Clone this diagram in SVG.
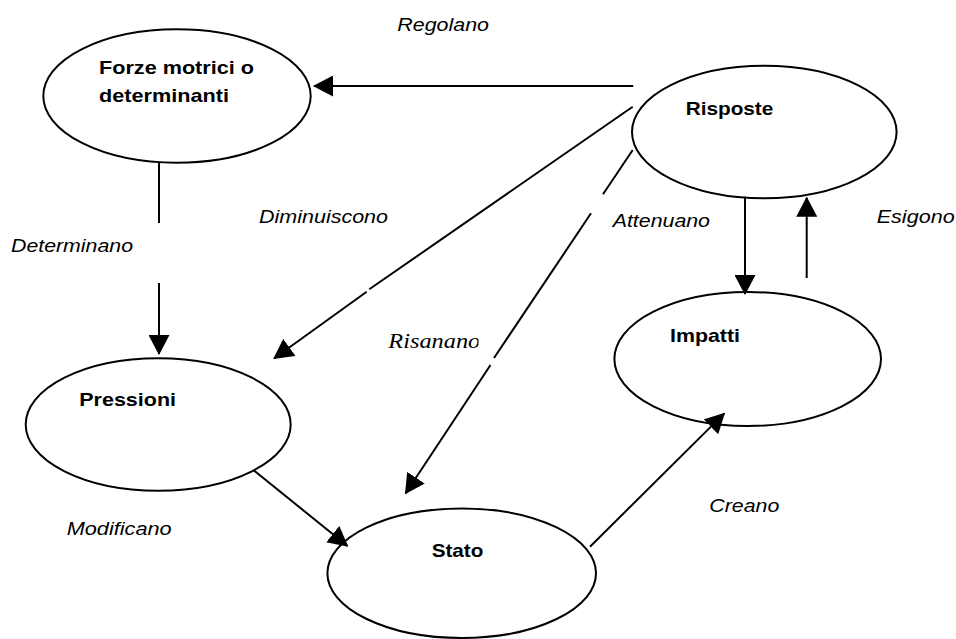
<svg xmlns="http://www.w3.org/2000/svg" width="956" height="639" viewBox="0 0 956 639">
<style>
.node{fill:#fff;stroke:#000;stroke-width:2}
.lbl{font-family:"Liberation Sans",Arial,sans-serif;font-size:19px;font-weight:bold;fill:#000}
.edge{font-family:"Liberation Sans",Arial,sans-serif;font-size:19px;font-style:italic;fill:#000}
.serif{font-family:"Liberation Serif","Times New Roman",serif;font-size:22px;font-style:italic;fill:#000}
.c{stroke:#000;stroke-width:2;fill:none}
.a{marker-end:url(#arr)}
</style>
<defs>
<marker id="arr" viewBox="0 0 20 21" markerWidth="20" markerHeight="21" refX="19" refY="10.5" markerUnits="userSpaceOnUse" orient="auto">
<path d="M0,0 L20,10.5 L0,21 Z" fill="#000"/>
</marker>
<clipPath id="clipR"><rect x="380" y="320" width="98.5" height="40"/></clipPath>
</defs>
<g id="forze">
<ellipse class="node" cx="177" cy="96" rx="133.7" ry="66.7"/>
<text class="lbl" x="99" y="74" textLength="155" lengthAdjust="spacingAndGlyphs">Forze motrici o</text>
<text class="lbl" x="99" y="101.7" textLength="130" lengthAdjust="spacingAndGlyphs">determinanti</text>
</g>
<g id="risposte">
<ellipse class="node" cx="764.3" cy="132" rx="132.3" ry="66.3"/>
<text class="lbl" x="685.7" y="115" textLength="87.6" lengthAdjust="spacingAndGlyphs">Risposte</text>
</g>
<g id="impatti">
<ellipse class="node" cx="747.7" cy="359" rx="133.3" ry="67"/>
<text class="lbl" x="670" y="341.7" textLength="70" lengthAdjust="spacingAndGlyphs">Impatti</text>
</g>
<g id="pressioni">
<ellipse class="node" cx="158.2" cy="424.5" rx="132.5" ry="66.2"/>
<text class="lbl" x="79.3" y="406" textLength="96.7" lengthAdjust="spacingAndGlyphs">Pressioni</text>
</g>
<g id="stato">
<ellipse class="node" cx="461.7" cy="573.2" rx="134.3" ry="64.8"/>
<text class="lbl" x="431.7" y="557.3" textLength="51.7" lengthAdjust="spacingAndGlyphs">Stato</text>
</g>
<g id="connectors">
<line class="c a" x1="633.3" y1="86" x2="314" y2="86"/>
<line class="c" x1="159" y1="163" x2="159" y2="223"/>
<line class="c a" x1="159" y1="283" x2="159" y2="354"/>
<line class="c" x1="632.7" y1="106.7" x2="369.3" y2="289.3"/>
<line class="c a" x1="366.7" y1="291.7" x2="274" y2="358.5"/>
<line class="c" x1="632.7" y1="150" x2="603" y2="194.3"/>
<line class="c" x1="591" y1="213.3" x2="494" y2="358"/>
<line class="c a" x1="490.5" y1="365" x2="405.5" y2="493.5"/>
<line class="c a" x1="745" y1="196.7" x2="745" y2="294"/>
<line class="c a" x1="806.7" y1="278" x2="806.7" y2="197.7"/>
<line class="c a" x1="253.3" y1="470" x2="347.5" y2="546"/>
<line class="c a" x1="590" y1="546.7" x2="724.3" y2="413.4"/>
</g>
<g id="labels">
<text class="edge" x="397.3" y="30.7" textLength="91.7" lengthAdjust="spacingAndGlyphs">Regolano</text>
<text class="edge" x="259" y="222.6" textLength="129" lengthAdjust="spacingAndGlyphs">Diminuiscono</text>
<text class="edge" x="11" y="251.7" textLength="122" lengthAdjust="spacingAndGlyphs">Determinano</text>
<text class="edge" x="612.7" y="226.7" textLength="97.3" lengthAdjust="spacingAndGlyphs">Attenuano</text>
<text class="edge" x="876.7" y="222.7" textLength="78" lengthAdjust="spacingAndGlyphs">Esigono</text>
<text class="serif" x="388.3" y="348.3" textLength="92" lengthAdjust="spacingAndGlyphs" clip-path="url(#clipR)">Risanano</text>
<text class="edge" x="66.7" y="535" textLength="105" lengthAdjust="spacingAndGlyphs">Modificano</text>
<text class="edge" x="709.3" y="511.7" textLength="70" lengthAdjust="spacingAndGlyphs">Creano</text>
</g>
</svg>
